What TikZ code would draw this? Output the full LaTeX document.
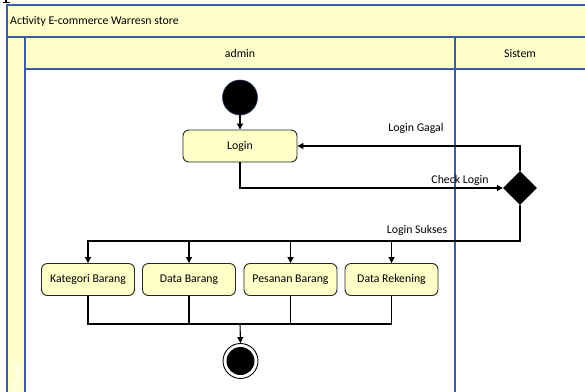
\documentclass[tikz,border=0pt]{standalone}
\usepackage{fontspec}
\setmainfont{Carlito}
\usetikzlibrary{arrows.meta,shapes.geometric}
\definecolor{lanefill}{RGB}{255,255,204}
\definecolor{laneline}{RGB}{62,92,160}
\definecolor{actfill}{RGB}{255,255,200}
\tikzset{
  lane/.style={draw=laneline,line width=1.3pt,fill=lanefill},
  lanetxt/.style={font=\fontsize{11.8}{13}\selectfont,inner sep=0pt},
  act/.style={draw=black!85,line width=0.9pt,fill=actfill,rounded corners=6pt,
    minimum width=93pt,minimum height=32pt,inner sep=0pt,
    font=\fontsize{11.8}{13}\selectfont},
  flow/.style={draw=black,line width=1.1pt},
  arr/.style={flow,-{Triangle[length=6pt,width=6pt]}},
  lbl/.style={font=\fontsize{11.8}{13}\selectfont,inner sep=0pt},
}
\begin{document}
\begin{tikzpicture}[x=1pt,y=-1pt]
\useasboundingbox (0,0) rectangle (585,391);
\fill[white] (0,0) rectangle (585,391);
% clipped glyph stub at the top-left corner
\fill[black] (5,0) rectangle (7,1.5);
\fill[black] (3,1.5) rectangle (10,2.5);

% swimlane frame
\draw[lane] (7,5) rectangle (600,37);
\draw[lane] (7,37) rectangle (25,400);
\draw[lane] (25,37) rectangle (455,69);
\draw[lane] (455,37) rectangle (600,69);
\draw[laneline,line width=1.3pt] (455,69) -- (455,400);
\node[lanetxt,anchor=west] (title) at (10,21) {Activity E-commerce Warresn store};
\node[lanetxt] (admin) at (240,53) {admin};
\node[lanetxt] (sistem) at (520,53) {Sistem};
\node[lanetxt,text=white,rotate=90] (phase) at (16,377) {Phase};

% start node
\node[circle,fill=black,draw=laneline!60!black,line width=0.6pt,minimum size=35pt,inner sep=0pt] (start) at (240,97.5) {};
% activities
\node[act,minimum width=114pt] (login) at (240,146) {Login};
\node[diamond,fill=black,minimum width=34pt,minimum height=34pt,inner sep=0pt,aspect=1] (dec) at (520,188) {};
\node[act] (kat) at (88,279.5) {Kategori Barang};
\node[act] (data) at (189,279.5) {Data Barang};
\node[act] (pes) at (290.5,279.5) {Pesanan Barang};
\node[act] (rek) at (391.5,279.5) {Data Rekening};
% end node
\node[circle,draw=black,fill=white,line width=0.9pt,minimum size=35pt,inner sep=0pt] (stop) at (240.5,361) {};
\node[circle,fill=black,minimum size=28pt,inner sep=0pt] (stopin) at (stop) {};

\coordinate (fork) at (520,241);
\coordinate (join) at (240,324);

% connectors
\draw[arr] (start) -- (login);
\draw[arr] (login.south) |- (dec.west);
\draw[arr] (dec.north) |- (login.east);
\draw[arr] (dec.south) -- (fork) -| (kat.north);
\draw[arr] (data.north |- fork) -- (data.north);
\draw[arr] (pes.north |- fork) -- (pes.north);
\draw[arr] (rek.north |- fork) -- (rek.north);
\draw[flow] (kat.south) |- (rek.south |- join) -- (rek.south);
\draw[flow] (data.south) -- (data.south |- join);
\draw[flow] (pes.south) -- (pes.south |- join);
\draw[arr] (join) -- (stop.north);

% guard labels
\node[lbl] (gagal) at (416,128) {Login Gagal};
\node[lbl] (check) at (460,180) {Check Login};
\node[lbl] (sukses) at (417,230) {Login Sukses};
\end{tikzpicture}
\end{document}
